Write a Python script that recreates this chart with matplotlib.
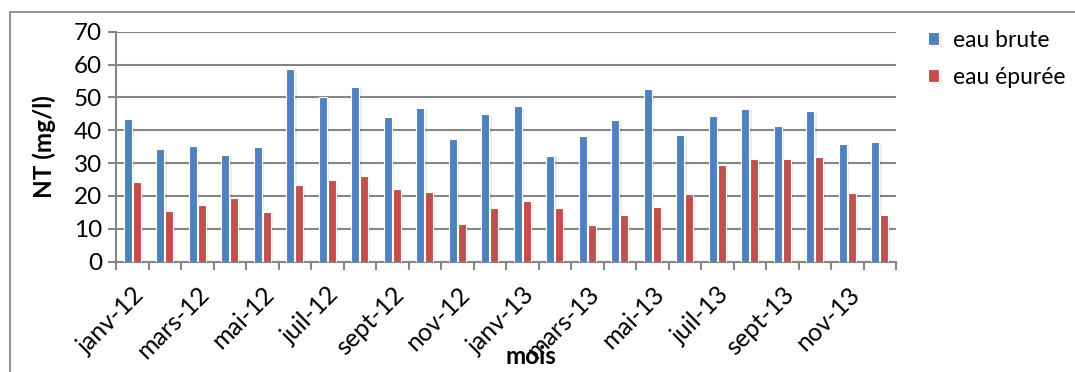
import matplotlib
matplotlib.use("Agg")
import matplotlib.pyplot as plt
import matplotlib.patheffects as pe
from matplotlib.patches import Rectangle
import numpy as np

plt.rcParams['font.family'] = ['Lato', 'DejaVu Sans']

months = ['janv-12', 'févr-12', 'mars-12', 'avr-12', 'mai-12', 'juin-12',
          'juil-12', 'août-12', 'sept-12', 'oct-12', 'nov-12', 'déc-12',
          'janv-13', 'févr-13', 'mars-13', 'avr-13', 'mai-13', 'juin-13',
          'juil-13', 'août-13', 'sept-13', 'oct-13', 'nov-13', 'déc-13']
eau_brute = [43.5, 34.4, 35.1, 32.6, 34.8, 58.5, 50.0, 53.2, 44.1, 46.9, 37.2, 45.0,
             47.3, 32.2, 38.3, 43.0, 52.6, 38.7, 44.3, 46.6, 41.3, 45.8, 35.9, 36.5]
eau_epuree = [24.2, 15.4, 17.2, 19.5, 15.1, 23.4, 25.0, 26.0, 22.0, 21.2, 11.5, 16.2,
              18.6, 16.2, 11.1, 14.2, 16.8, 20.6, 29.5, 31.4, 31.4, 31.9, 20.8, 14.2]

BLUE = '#4F81BD'
RED = '#C0504D'
GRAY = '#868686'

W, H = 1075, 372
fig = plt.figure(figsize=(W / 100, H / 100), dpi=100)
ax = fig.add_axes([116 / W, 1 - 261.7 / H, (896 - 116) / W, (261.7 - 31.7) / H])

x = np.arange(len(months))
bw = 0.25
off = 0.135
shadow = [pe.SimplePatchShadow(offset=(1.5, -1.0), shadow_rgbFace='k', alpha=0.08), pe.Normal()]
b1 = ax.bar(x - off, eau_brute, bw, color=BLUE, edgecolor='white', linewidth=0.8,
            label='eau brute', zorder=3)
b2 = ax.bar(x + off, eau_epuree, bw, color=RED, edgecolor='white', linewidth=0.8,
            label='eau épurée', zorder=3)
for p in list(b1) + list(b2):
    p.set_path_effects(shadow)

ax.set_xlim(-0.5, len(months) - 0.5)
ax.set_ylim(0, 70)
ax.set_yticks(range(0, 71, 10))
ax.yaxis.grid(True, color=GRAY, linewidth=1.5, zorder=0)
ax.set_axisbelow(True)

for s in ['top', 'right']:
    ax.spines[s].set_visible(False)
for s in ['left', 'bottom']:
    ax.spines[s].set_color(GRAY)
    ax.spines[s].set_linewidth(1.5)

# labels every other month, tick marks on category boundaries
ax.set_xticks(x[::2])
ax.set_xticklabels(months[::2], rotation=45, ha='right', rotation_mode='anchor')
ax.set_xticks(np.arange(-0.5, len(months), 1), minor=True)
ax.tick_params(axis='x', which='major', length=0, pad=15, labelsize=18)
ax.tick_params(axis='x', which='minor', length=6, width=1.5, color=GRAY, direction='out')
ax.tick_params(axis='y', length=6, width=1.5, color=GRAY, direction='out', labelsize=17.5, pad=4)

fig.text(44 / W, 1 - 147 / H, 'NT (mg/l)', rotation=90, fontsize=17.5, fontweight='bold',
         ha='center', va='center')
fig.text(531 / W, 1 - 356 / H, 'mois', fontsize=17.5, fontweight='bold',
         ha='center', va='center')

fig.legend(handles=[b1, b2], loc='upper left', bbox_to_anchor=(928 / W, 1 - 30 / H),
           frameon=False, fontsize=16.5, handlelength=0.5, handleheight=0.5,
           handletextpad=0.6, labelspacing=0.7, borderaxespad=0, borderpad=0)

fig.patches.append(Rectangle((10 / W, -0.1), 1.2, (1 - 12 / H) + 0.1, transform=fig.transFigure,
                             fill=False, edgecolor='#7f7f7f', linewidth=1.2))

fig.savefig('out.png', dpi=100)
